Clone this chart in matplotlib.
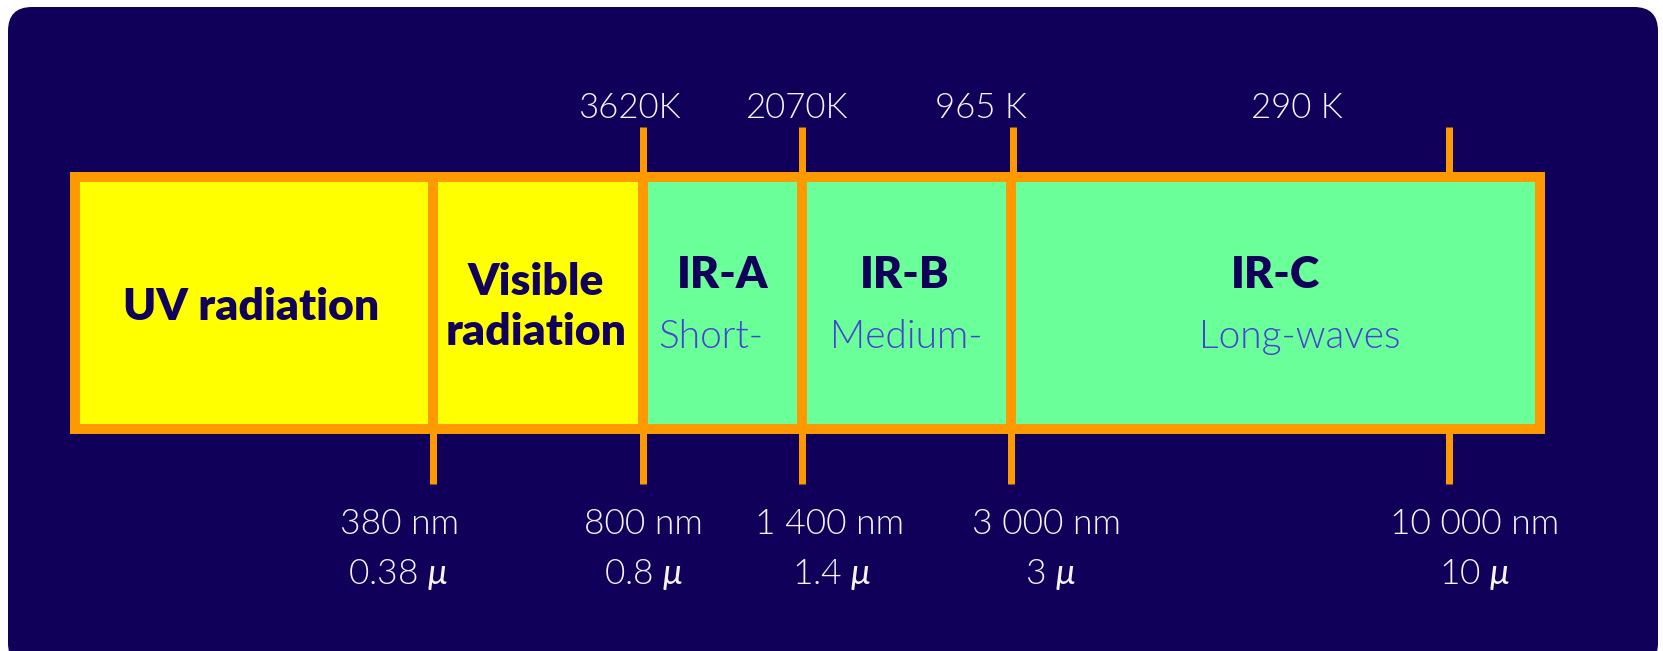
import numpy as np
import matplotlib
matplotlib.use("Agg")
import matplotlib.pyplot as plt
from matplotlib.patches import FancyBboxPatch, Rectangle

# data
bands = ["UV radiation", "Visible\nradiation", "IR-A", "IR-B", "IR-C"]
band_sub = ["", "", "Short-", "Medium-", "Long-waves"]
band_fill = ["#FFFF00", "#FFFF00", "#6AFF99", "#6AFF99", "#6AFF99"]
wl_nm = ["380 nm", "800 nm", "1 400 nm", "3 000 nm", "10 000 nm"]
wl_um = ["0.38", "0.8", "1.4", "3", "10"]
temps = ["3620K", "2070K", "965 K", "290 K"]

# layout (pixels in a 1663x651 canvas)
box_l, box_r, box_t, box_b = 75, 1540, 177, 429
edges_x = [433, 643, 802, 1011]          # band dividers
tick_x = [433, 643, 802, 1011, 1449]     # bottom ticks (wavelengths)
top_tick_x = [643, 802, 1013, 1449]      # top ticks (temperatures)
band_cx = [251, 536, 723, 905, 1275]
sub_cx = [0, 0, 711, 906, 1300]
nm_cx = [400, 643, 830, 1047, 1475]
um_cx = [398, 644, 832, 1050, 1475]
temp_cx = [629, 797, 981, 1297]

navy = "#10005A"
orange = "#FF9900"
px = 0.72  # points per pixel at dpi 100

plt.rcParams["mathtext.fontset"] = "custom"
plt.rcParams["mathtext.it"] = "Lato:italic"
plt.rcParams["mathtext.rm"] = "Lato"

fig = plt.figure(figsize=(16.63, 6.51), dpi=100)
ax = fig.add_axes([0, 0, 1, 1])
ax.set_xlim(0, 1663)
ax.set_ylim(651, 0)
ax.axis("off")
fig.patch.set_facecolor("white")

bg = FancyBboxPatch((8, 7), 1650, 660, boxstyle="round,pad=0,rounding_size=24",
                    fc=navy, ec="none")
ax.add_patch(bg)

# band fills
xs = [box_l] + edges_x + [box_r]
for i in range(len(bands)):
    ax.add_patch(Rectangle((xs[i], box_t), xs[i + 1] - xs[i], box_b - box_t,
                           fc=band_fill[i], ec="none"))

# outline and dividers
ax.add_patch(Rectangle((box_l, box_t), box_r - box_l, box_b - box_t,
                       fc="none", ec=orange, lw=10 * px, joinstyle="miter"))
ax.vlines(edges_x, box_t, box_b, color=orange, lw=10 * px)
ax.vlines(tick_x, box_b, 484, color=orange, lw=7 * px)
ax.vlines(top_tick_x, 127, box_t, color=orange, lw=7 * px)

# band labels
for i, name in enumerate(bands):
    if band_sub[i]:
        ax.text(band_cx[i], 275, name, ha="center", va="center", fontsize=32,
                fontweight="heavy", family="Lato", color=navy)
        ax.text(sub_cx[i], 337, band_sub[i], ha="center", va="center", fontsize=28,
                fontweight=300, family="Lato", color="#4444D4")
    else:
        ax.text(band_cx[i], 307, name, ha="center", va="center", fontsize=32,
                fontweight="heavy", family="Lato", color=navy, linespacing=1.32)

# wavelength labels
for i in range(len(wl_nm)):
    ax.text(nm_cx[i], 524, wl_nm[i], ha="center", va="center", fontsize=25.5,
            fontweight=300, family="Lato", color="#F4F4FA")
    ax.text(um_cx[i], 575, wl_um[i] + r" $\mu$", ha="center", va="center", fontsize=25.5,
            fontweight=300, family="Lato", color="#F4F4FA")

# temperature labels
for i, t in enumerate(temps):
    ax.text(temp_cx[i], 108, t, ha="center", va="center", fontsize=25,
            fontweight=300, family="Lato", color="#F4F4FA")

fig.savefig("out.png", dpi=100, facecolor="white")
